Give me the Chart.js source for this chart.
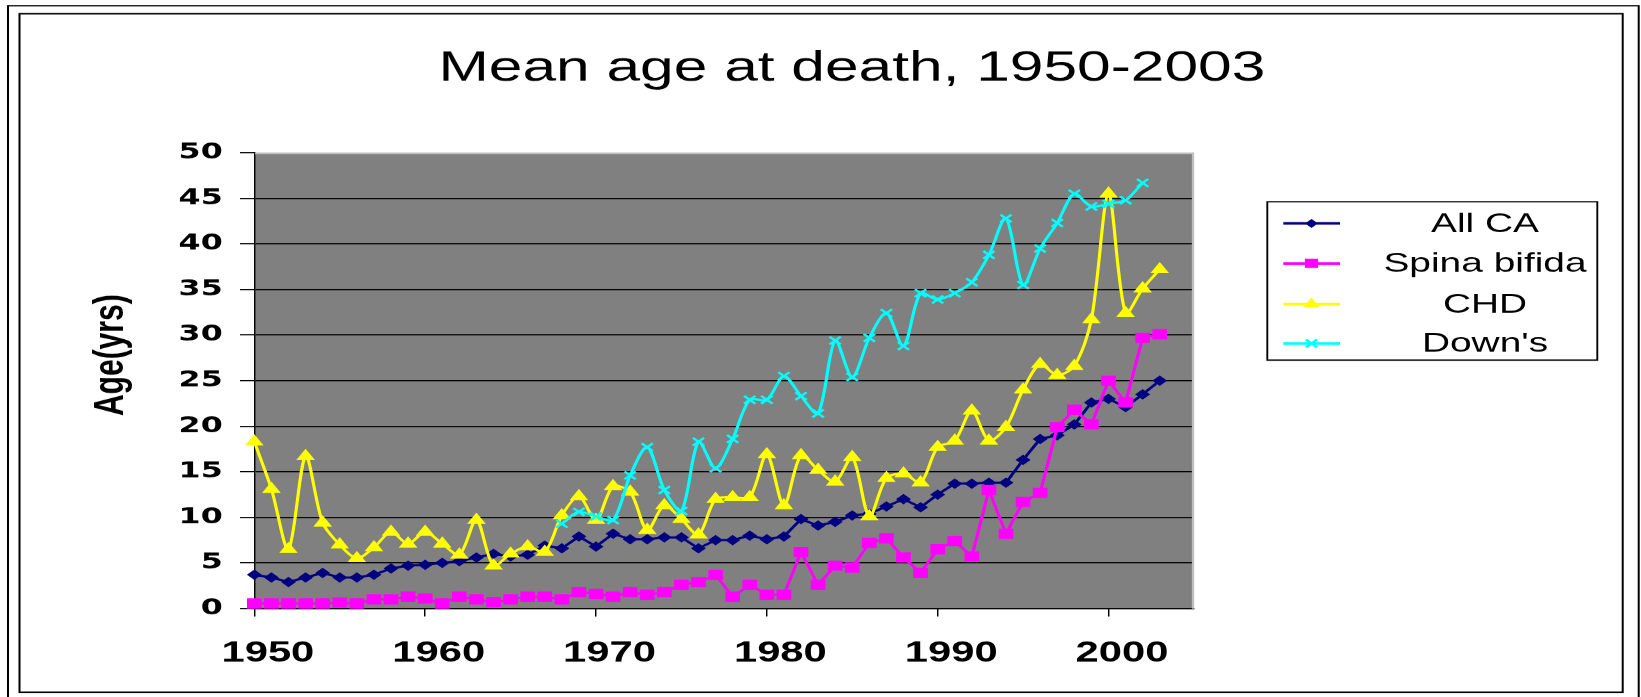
<!DOCTYPE html>
<html>
<head>
<meta charset="utf-8">
<script src="https://cdn.jsdelivr.net/npm/chart.js@4.4.1/dist/chart.umd.min.js"></script>
<style>
  html, body { margin: 0; padding: 0; background: #fff; overflow: hidden; }
</style>
</head>
<body>
<canvas id="chart" width="1140" height="697" style="display:block;width:1641px;height:697px"></canvas>
<script>
const chartTitle = 'Mean age at death, 1950-2003';
const yAxisTitle = 'Age(yrs)';

const years = [
  1950, 1951, 1952, 1953, 1954, 1955, 1956, 1957, 1958, 1959,
  1960, 1961, 1962, 1963, 1964, 1965, 1966, 1967, 1968, 1969,
  1970, 1971, 1972, 1973, 1974, 1975, 1976, 1977, 1978, 1979,
  1980, 1981, 1982, 1983, 1984, 1985, 1986, 1987, 1988, 1989,
  1990, 1991, 1992, 1993, 1994, 1995, 1996, 1997, 1998, 1999,
  2000, 2001, 2002, 2003
];

const allCA = [
  3.7, 3.4, 2.9, 3.4, 3.9, 3.4, 3.4, 3.7, 4.4, 4.7,
  4.8, 5.0, 5.2, 5.6, 6.0, 5.7, 5.9, 6.9, 6.6, 7.9,
  6.8, 8.2, 7.6, 7.6, 7.8, 7.8, 6.6, 7.5, 7.5, 8.0,
  7.6, 7.9, 9.8, 9.1, 9.5, 10.2, 10.4, 11.2, 12.0, 11.1,
  12.5, 13.7, 13.7, 13.8, 13.8, 16.3, 18.6, 19.0, 20.2, 22.6,
  23.0, 22.1, 23.5, 25.0
];

const spinaBifida = [
  0.55, 0.55, 0.55, 0.55, 0.55, 0.65, 0.55, 1.0, 1.0, 1.3,
  1.1, 0.55, 1.3, 1.0, 0.7, 1.0, 1.3, 1.3, 1.0, 1.8,
  1.6, 1.3, 1.8, 1.5, 1.8, 2.6, 2.9, 3.7, 1.3, 2.6,
  1.5, 1.5, 6.2, 2.6, 4.7, 4.5, 7.2, 7.7, 5.6, 3.9,
  6.5, 7.4, 5.7, 13.0, 8.2, 11.7, 12.7, 19.9, 21.8, 20.2,
  25.0, 22.6, 29.7, 30.1
];

const chd = [
  18.3, 13.1, 6.5, 16.7, 9.4, 7.0, 5.5, 6.7, 8.4, 7.1,
  8.4, 7.1, 5.9, 9.7, 4.7, 6.0, 6.8, 6.2, 10.2, 12.3,
  9.7, 13.4, 12.8, 8.6, 11.3, 9.8, 8.1, 12.0, 12.2, 12.2,
  16.9, 11.3, 16.8, 15.2, 13.9, 16.6, 10.1, 14.3, 14.8, 13.8,
  17.7, 18.4, 21.7, 18.4, 19.9, 24.0, 26.8, 25.6, 26.6, 31.7,
  45.5, 32.4, 35.1, 37.2
];

const downs = [
  null, null, null, null, null, null, null, null, null, null,
  null, null, null, null, null, null, null, null, 9.3, 10.6,
  10.1, 9.7, 14.6, 17.7, 13.0, 10.7, 18.3, 15.4, 18.6, 22.9,
  22.9, 25.5, 23.3, 21.4, 29.4, 25.4, 29.7, 32.4, 28.8, 34.6,
  33.9, 34.6, 35.8, 38.8, 42.8, 35.5, 39.5, 42.3, 45.5, 44.1,
  44.4, 44.8, 46.7, null
];

const xTicks = [1950, 1960, 1970, 1980, 1990, 2000];
const yTicks = [0, 5, 10, 15, 20, 25, 30, 35, 40, 45, 50];

// the original picture is stretched sideways, so the chart is drawn narrow and widened
const STRETCH = 1641 / 1140;
const sx = v => v / STRETCH;

const toXY = vals => years.map((yr, i) => ({ x: yr, y: vals[i] }));

function drawMarker(ctx, style, x, y, r) {
  ctx.beginPath();
  if (style === 'rectRot') {
    ctx.moveTo(x - r, y); ctx.lineTo(x, y - r); ctx.lineTo(x + r, y); ctx.lineTo(x, y + r);
    ctx.closePath(); ctx.fill();
  } else if (style === 'rect') {
    const s = Math.SQRT1_2 * r;
    ctx.rect(x - s, y - s, 2 * s, 2 * s); ctx.fill();
  } else if (style === 'triangle') {
    const w = r * Math.sin(Math.PI / 3);
    ctx.moveTo(x, y - r); ctx.lineTo(x + w, y + r / 2); ctx.lineTo(x - w, y + r / 2);
    ctx.closePath(); ctx.fill();
  } else {
    const o = Math.SQRT1_2 * r;
    ctx.moveTo(x - o, y - o); ctx.lineTo(x + o, y + o);
    ctx.moveTo(x + o, y - o); ctx.lineTo(x - o, y + o);
    ctx.stroke();
  }
}

const framePlugin = {
  id: 'frame',
  beforeDraw(chart) {
    const { ctx, chartArea: a } = chart;
    ctx.save();
    ctx.fillStyle = '#fff';
    ctx.fillRect(0, 0, chart.width, chart.height);
    ctx.strokeStyle = '#000';
    ctx.lineWidth = 1.4;
    ctx.beginPath();
    ctx.moveTo(sx(8), 700); ctx.lineTo(sx(8), 5.7); ctx.lineTo(sx(1638.7), 5.7); ctx.lineTo(sx(1638.7), 700);
    ctx.stroke();
    ctx.strokeRect(sx(19.5), 13.7, sx(1622.7) - sx(19.5), 692 - 13.7);
    ctx.fillStyle = '#808080';
    ctx.fillRect(a.left, a.top, a.right - a.left, a.bottom - a.top);
    ctx.restore();
  },
  afterDraw(chart) {
    const { ctx, chartArea: a } = chart;
    ctx.save();
    // light plot border on top and right
    ctx.strokeStyle = '#c0c0c0';
    ctx.lineWidth = 1.6;
    ctx.beginPath();
    ctx.moveTo(a.left + 0.5, a.top + 0.8);
    ctx.lineTo(a.right - 0.6, a.top + 0.8);
    ctx.lineTo(a.right - 0.6, a.bottom);
    ctx.stroke();

    // chart title
    ctx.fillStyle = '#000';
    ctx.font = '42px "Liberation Sans", Arial, sans-serif';
    ctx.textAlign = 'center';
    ctx.textBaseline = 'alphabetic';
    ctx.fillText(chartTitle, sx(851.9), 80.7);

    // y axis title
    ctx.save();
    ctx.translate(sx(111.5), 355);
    ctx.rotate(-Math.PI / 2);
    ctx.font = 'bold 30px "Liberation Sans", Arial, sans-serif';
    ctx.textBaseline = 'middle';
    ctx.fillText(yAxisTitle, 0, 0);
    ctx.restore();

    // legend
    const left = sx(1267.3), right = sx(1597.3), top = 201.7, bottom = 360;
    ctx.fillStyle = '#fff';
    ctx.fillRect(left, top, right - left, bottom - top);
    ctx.strokeStyle = '#000';
    ctx.lineWidth = 1.3;
    ctx.strokeRect(left, top, right - left, bottom - top);
    const rows = [223.3, 263.3, 304, 343.3];
    chart.data.datasets.forEach((ds, i) => {
      const y = rows[i];
      ctx.strokeStyle = ds.borderColor;
      ctx.fillStyle = ds.borderColor;
      ctx.lineWidth = 2.6;
      ctx.beginPath();
      ctx.moveTo(sx(1283.3), y); ctx.lineTo(sx(1340), y);
      ctx.stroke();
      ctx.lineWidth = ds.pointBorderWidth;
      drawMarker(ctx, ds.pointStyle, sx(1311.5), y, ds.pointRadius);
      ctx.fillStyle = '#000';
      ctx.font = '27px "Liberation Sans", Arial, sans-serif';
      ctx.textAlign = 'center';
      ctx.textBaseline = 'middle';
      ctx.fillText(ds.label, sx(1485), y + 1);
    });
    ctx.restore();
  }
};

new Chart(document.getElementById('chart'), {
  type: 'line',
  data: {
    datasets: [
      { label: 'All CA', data: toXY(allCA), borderColor: '#000080', backgroundColor: '#000080',
        pointBackgroundColor: '#000080', pointBorderColor: '#000080', pointBorderWidth: 1,
        borderWidth: 2.2, pointStyle: 'rectRot', pointRadius: 4.5, tension: 0, order: 4, clip: false },
      { label: 'Spina bifida', data: toXY(spinaBifida), borderColor: '#ff00ff', backgroundColor: '#ff00ff',
        pointBackgroundColor: '#ff00ff', pointBorderColor: '#ff00ff', pointBorderWidth: 1,
        borderWidth: 2.2, pointStyle: 'rect', pointRadius: 6.5, tension: 0, order: 3, clip: false },
      { label: 'CHD', data: toXY(chd), borderColor: '#ffff00', backgroundColor: '#ffff00',
        pointBackgroundColor: '#ffff00', pointBorderColor: '#ffff00', pointBorderWidth: 1,
        borderWidth: 2.2, pointStyle: 'triangle', pointRadius: 6.5, tension: 0.3, order: 2, clip: false },
      { label: "Down's", data: toXY(downs), borderColor: '#00ffff', backgroundColor: '#00ffff',
        pointBackgroundColor: '#00ffff', pointBorderColor: '#00ffff', pointBorderWidth: 2,
        borderWidth: 2.2, pointStyle: 'crossRot', pointRadius: 5.5, tension: 0.3, order: 1, clip: false }
    ]
  },
  options: {
    responsive: false,
    devicePixelRatio: STRETCH,
    animation: false,
    events: [],
    layout: { padding: { left: 13, right: 1140 - 829.4, top: 152.7, bottom: 28.7 } },
    plugins: {
      legend: { display: false },
      title: { display: false },
      tooltip: { enabled: false }
    },
    scales: {
      x: {
        type: 'linear',
        min: 1950,
        max: 2005,
        afterBuildTicks: s => { s.ticks = xTicks.map(v => ({ value: v })); },
        afterFit: s => { s.height = 60; },
        grid: { drawOnChartArea: false, drawTicks: true, tickLength: 8, color: '#000', lineWidth: 1 },
        border: { color: '#000', width: 1 },
        ticks: {
          color: '#000',
          font: { family: '"Liberation Sans", Arial, sans-serif', size: 29, weight: 'bold' },
          padding: 20,
          labelOffset: 9.4,
          maxRotation: 0,
          autoSkip: false,
          callback: v => String(v)
        }
      },
      y: {
        min: 0,
        max: 50,
        afterBuildTicks: s => { s.ticks = yTicks.map(v => ({ value: v })); },
        afterFit: s => { s.width = 176.7 - 13; },
        grid: {
          color: c => (c.tick && c.tick.value === 50 ? 'rgba(0,0,0,0)' : '#000'),
          tickColor: '#000',
          tickLength: 10,
          lineWidth: 1
        },
        border: { color: '#000', width: 1 },
        ticks: {
          color: '#000',
          font: { family: '"DejaVu Sans", Verdana, sans-serif', size: 22, weight: 'bold' },
          padding: 12,
          callback: v => String(v)
        }
      }
    }
  },
  plugins: [framePlugin]
});
</script>
</body>
</html>
